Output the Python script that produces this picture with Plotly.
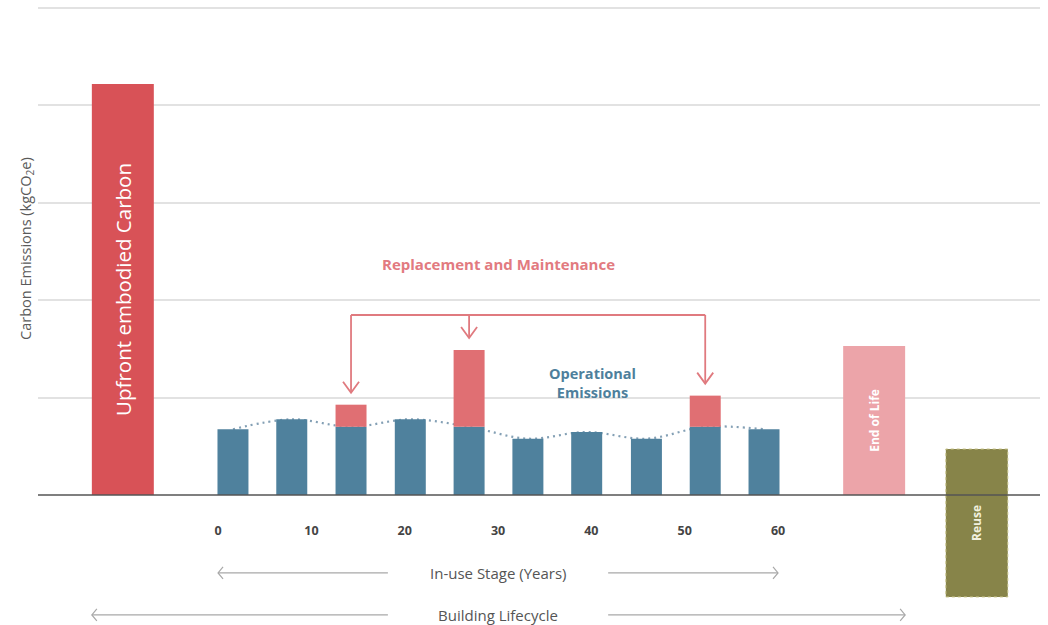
import plotly.graph_objects as go

# In-use stage: sample years along the 60-year service life and the
# emissions recorded at each (kgCO2e, schematic units)
use_years = [1.6, 7.9, 14.25, 20.6, 26.9, 33.2, 39.5, 45.9, 52.2, 58.5]
operational = [0.675, 0.777, 0.70, 0.777, 0.70, 0.578, 0.647, 0.578, 0.70, 0.675]
maintenance = [0, 0, 0.227, 0, 0.789, 0, 0, 0, 0.32, 0]

# Whole-life stages outside the in-use period
stage_names = ["Upfront embodied Carbon", "End of Life", "Reuse"]
stage_x = [-10.2, 70.3, 81.3]
stage_top = [4.22, 1.53, 0.472]
stage_base = [0, 0, -1.047]

year_ticks = [0, 10, 20, 30, 40, 50, 60]

FONT = "Open Sans"
BLUE = "#4f819d"
RED = "#d85257"
RED_LIGHT = "#e06f73"
PINK = "#eca4a9"
OLIVE = "#878449"
ARROW = "#e07a7f"
GREY = "#555555"

use_w = 3.32
stage_w = 6.64

fig = go.Figure()

# dotted trend through the operational values, kept behind the bars
fig.add_trace(go.Scatter(
    x=use_years, y=operational, mode="lines",
    line=dict(shape="spline", dash="2px,4px", color="#84a0b5", width=2.2),
    hoverinfo="skip", zorder=-1,
))

fig.add_trace(go.Bar(
    x=use_years, y=operational, width=use_w,
    marker=dict(color=BLUE, line=dict(width=0)), name="Operational",
))
fig.add_trace(go.Bar(
    x=use_years, y=maintenance, base=operational, width=use_w,
    marker=dict(color=RED_LIGHT, line=dict(width=0)), name="Maintenance",
))

stage_colors = [RED, PINK, OLIVE]
stage_text_colors = ["white", "white", "#f1f0de"]
stage_fonts = [dict(size=20.5, weight="normal"), dict(size=12, weight="bold"),
               dict(size=12, weight="bold")]
for name, x, top, base, col, tcol, f in zip(stage_names, stage_x, stage_top,
                                            stage_base, stage_colors,
                                            stage_text_colors, stage_fonts):
    fig.add_trace(go.Bar(
        x=[x], y=[top - base], base=[base], width=stage_w,
        marker=dict(color=col, line=dict(width=0)),
        text=[name], textposition="inside", insidetextanchor="middle",
        textangle=-90,
        textfont=dict(family=FONT, color=tcol, size=f["size"], weight=f["weight"]),
        name=name,
    ))

shapes = []

# dotted outline on the reuse bar
ri = stage_names.index("Reuse")
shapes.append(dict(
    type="rect", xref="x", yref="y",
    x0=stage_x[ri] - stage_w / 2, x1=stage_x[ri] + stage_w / 2,
    y0=stage_base[ri], y1=stage_top[ri],
    line=dict(color="#c9c58c", width=1, dash="dot"), layer="above",
))

# baseline
shapes.append(dict(type="line", xref="paper", yref="y", x0=0, x1=1, y0=0, y1=0,
                   line=dict(color=GREY, width=1.5), layer="above"))

# bracket with arrows pointing at each replacement
bracket_y = 1.848
gap = 0.123
mx = [use_years[i] for i, m in enumerate(maintenance) if m > 0]
mtips = [operational[i] + m + gap for i, m in enumerate(maintenance) if m > 0]
shapes.append(dict(type="line", xref="x", yref="y", x0=min(mx), x1=max(mx),
                   y0=bracket_y, y1=bracket_y, line=dict(color=ARROW, width=1.8)))
for x, tip in zip(mx, mtips):
    shapes.append(dict(type="line", xref="x", yref="y", x0=x, x1=x,
                       y0=bracket_y, y1=tip, line=dict(color=ARROW, width=1.8)))
    shapes.append(dict(type="path", xref="x", yref="y",
                       xsizemode="pixel", ysizemode="pixel", xanchor=x, yanchor=tip,
                       path="M-8,11 L0,0 L8,11", line=dict(color=ARROW, width=1.8)))

# span arrows under the axis
def span(x0, x1, y, mid, half_gap):
    out = []
    for a, b in [(x0, mid - half_gap), (mid + half_gap, x1)]:
        out.append(dict(type="line", xref="x", yref="y", x0=a, x1=b, y0=y, y1=y,
                        line=dict(color="#a8a8a8", width=1.2)))
    out.append(dict(type="path", xref="x", yref="y", xsizemode="pixel",
                    ysizemode="pixel", xanchor=x0, yanchor=y,
                    path="M5,6 L0,0 L5,-6", line=dict(color="#a8a8a8", width=1.2)))
    out.append(dict(type="path", xref="x", yref="y", xsizemode="pixel",
                    ysizemode="pixel", xanchor=x1, yanchor=y,
                    path="M-5,6 L0,0 L-5,-6", line=dict(color="#a8a8a8", width=1.2)))
    return out

mid_year = (year_ticks[0] + year_ticks[-1]) / 2
inuse_y = -0.80
life_y = -1.232
shapes += span(year_ticks[0], year_ticks[-1], inuse_y, mid_year, 11.8)
shapes += span(stage_x[0] - stage_w / 2, stage_x[1] + stage_w / 2, life_y, mid_year, 11.8)

annotations = [
    dict(text="In-use Stage (Years)", x=mid_year, y=inuse_y, xref="x", yref="y",
         showarrow=False, font=dict(family=FONT, size=15, color=GREY)),
    dict(text="Building Lifecycle", x=mid_year, y=life_y, xref="x", yref="y",
         showarrow=False, font=dict(family=FONT, size=15, color=GREY)),
    dict(text="Replacement and Maintenance", x=mid_year, y=2.372, xref="x", yref="y",
         showarrow=False, font=dict(family=FONT, size=15, color="#e27a80", weight="bold")),
    dict(text="Operational<br>Emissions", x=40.07, y=1.15, xref="x", yref="y",
         showarrow=False, font=dict(family=FONT, size=14.5, color="#4e7f9c", weight="bold")),
    dict(text="Carbon Emissions (kgCO<sub>2</sub>e)", x=-0.011, y=2.536,
         xref="paper", yref="y", xanchor="center", yanchor="middle",
         textangle=-90, showarrow=False,
         font=dict(family=FONT, size=14.5, color="#5a5a5a")),
]

fig.update_layout(
    width=1048, height=625,
    margin=dict(l=38, r=8, t=0, b=0, pad=0),
    paper_bgcolor="white", plot_bgcolor="white",
    barmode="overlay", showlegend=False,
    shapes=shapes, annotations=annotations,
    xaxis=dict(
        range=[-19.29, 88.07], anchor="free", position=130 / 625,
        tickvals=year_ticks, ticktext=[str(t) for t in year_ticks],
        ticks="outside", ticklen=24, tickcolor="rgba(0,0,0,0)",
        tickfont=dict(family=FONT, size=12.5, color="#444444", weight="bold"),
        showgrid=False, zeroline=False, showline=False,
    ),
    yaxis=dict(
        range=[-1.335, 5.082], tickvals=[1, 2, 3, 4, 5], showticklabels=False,
        gridcolor="#e2e2e2", gridwidth=1.5, zeroline=False, showline=False, ticks="",
    ),
)

fig.write_html("out.html")
